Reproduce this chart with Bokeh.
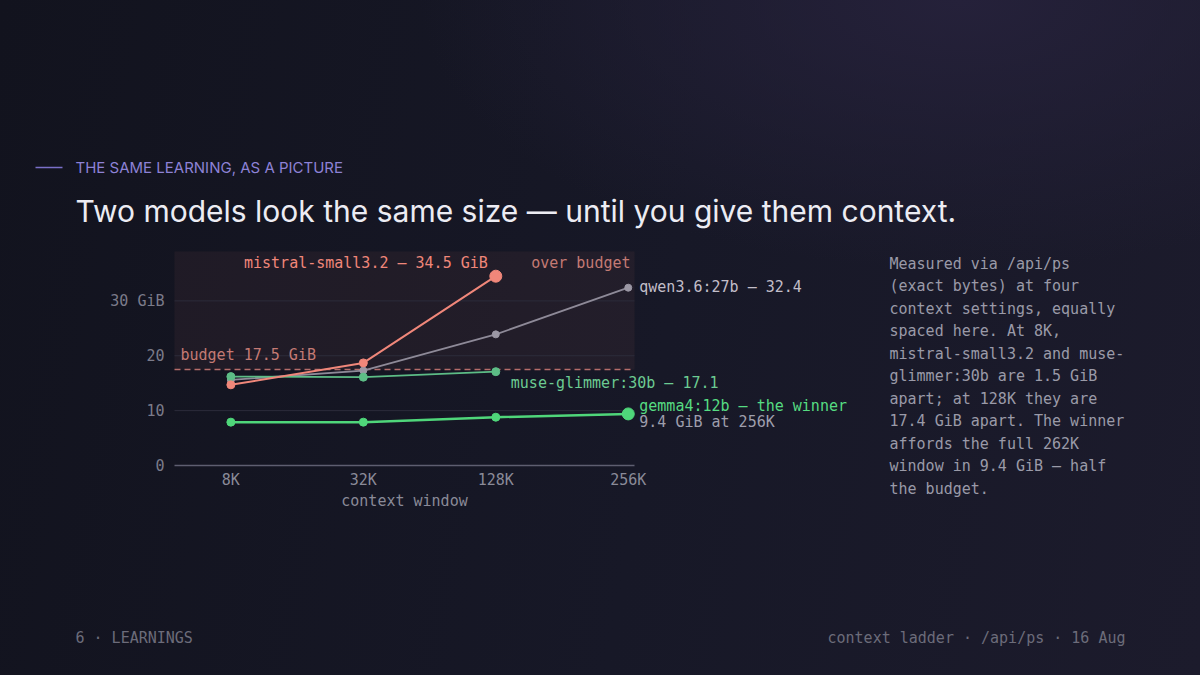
from bokeh.plotting import figure
from bokeh.models import Label, BoxAnnotation, FixedTicker, Range1d, LinearAxis
from bokeh.embed import file_html
from bokeh.resources import INLINE

# datos (GiB por ventana de contexto)
contexts = ["8K", "32K", "128K", "256K"]
mistral = [14.7, 18.7, 34.5]
qwen = [15.6, 17.3, 23.9, 32.4]
muse = [16.2, 16.1, 17.1]
gemma = [7.9, 7.9, 8.8, 9.4]
budget = 17.5
y_ticks = [0, 10, 20, 30]

side_lines = [
    "Measured via /api/ps",
    "(exact bytes) at four",
    "context settings, equally",
    "spaced here. At 8K,",
    "mistral-small3.2 and muse-",
    "glimmer:30b are 1.5 GiB",
    "apart; at 128K they are",
    "17.4 GiB apart. The winner",
    "affords the full 262K",
    "window in 9.4 GiB \u2014 half",
    "the budget.",
]

MONO = "DejaVu Sans Mono"
SANS = "Inter"
W, H = 1200, 675

xs = list(range(len(contexts)))

# zona del grafico en la pagina: x 174-634, y 251-465
X0, X1, Y0, Y1 = 174, 634, 251, 465
x_lo, x_hi = -0.4255, 3.047
y_lo, y_hi = 0, 39
sx = (X1 - X0) / (x_hi - x_lo)
sy = (Y1 - Y0) / (y_hi - y_lo)

# el marco ocupa todo el lienzo; los rangos se estiran para que el grafico caiga en su sitio
p = figure(width=W, height=H, output_backend="svg", toolbar_location=None,
           x_range=Range1d(x_lo - X0 / sx, x_hi + (W - X1) / sx),
           y_range=Range1d(y_lo - (H - Y1) / sy, y_hi + Y0 / sy),
           x_axis_location=None, y_axis_location=None,
           min_border=0)
p.border_fill_color = None
p.background_fill_color = None
p.outline_line_color = None
p.grid.visible = False

# zona "over budget"
p.add_layout(BoxAnnotation(left=x_lo, right=x_hi, bottom=budget, top=y_hi,
                           fill_color="#f08a7a", fill_alpha=0.06,
                           line_color=None, level="image"))

# rejilla
p.segment(x0=[x_lo] * 3, x1=[x_hi] * 3, y0=y_ticks[1:], y1=y_ticks[1:],
          line_color="#2c2c3b", line_width=1)

yaxis = LinearAxis(fixed_location=x_lo, ticker=FixedTicker(ticks=y_ticks))
yaxis.major_label_overrides = {30: "30 GiB"}
yaxis.axis_line_color = None
yaxis.major_tick_line_color = None
yaxis.minor_tick_line_color = None
yaxis.major_label_standoff = 4
yaxis.major_label_text_font = MONO
yaxis.major_label_text_font_size = "15px"
yaxis.major_label_text_color = "#7b7b8a"
p.add_layout(yaxis, "left")

xaxis = LinearAxis(fixed_location=y_lo, ticker=FixedTicker(ticks=xs), bounds=(x_lo, x_hi))
xaxis.major_label_overrides = {i: c for i, c in enumerate(contexts)}
xaxis.axis_line_color = "#5e5e70"
xaxis.axis_line_width = 1.5
xaxis.major_tick_line_color = None
xaxis.minor_tick_line_color = None
xaxis.major_label_standoff = -1
xaxis.major_label_text_font = MONO
xaxis.major_label_text_font_size = "15px"
xaxis.major_label_text_color = "#8a8a98"
xaxis.axis_label = "context window"
xaxis.axis_label_standoff = 0
xaxis.axis_label_text_font = MONO
xaxis.axis_label_text_font_size = "15px"
xaxis.axis_label_text_font_style = "normal"
xaxis.axis_label_text_color = "#8a8a98"
p.add_layout(xaxis, "below")

# linea de presupuesto
p.segment(x0=[x_lo], x1=[x_hi], y0=[budget], y1=[budget], line_color="#b56c6a",
          line_width=1.6, line_dash="6 4")

# series
p.line(xs[:len(qwen)], qwen, color="#8e8a98", line_width=1.8)
p.scatter(xs[:len(qwen)], qwen, size=7, color="#9b97a4")

p.line(xs[:len(muse)], muse, color="#5dbd86", line_width=1.8)
p.scatter(xs[:len(muse)], muse, size=8, color="#5dbd86")

p.line(xs[:len(mistral)], mistral, color="#f0877a", line_width=2)
p.scatter(xs[:len(mistral)], mistral, size=8, color="#f0877a")
p.scatter([xs[len(mistral) - 1]], [mistral[-1]], size=12, color="#f0877a")

p.line(xs[:len(gemma)], gemma, color="#4fd67a", line_width=2.5)
p.scatter(xs[:len(gemma)], gemma, size=8, color="#4fd67a")
p.scatter([xs[len(gemma) - 1]], [gemma[-1]], size=12, color="#4fd67a")


def lab(text, color, **kw):
    kw.setdefault("text_font", MONO)
    kw.setdefault("text_font_size", "15px")
    kw.setdefault("text_baseline", "middle")
    p.add_layout(Label(text=text, text_color=color, **kw))


def page_lab(text, color, X, Y, **kw):
    # posicion en pixeles de la pagina (origen arriba a la izquierda)
    lab(text, color, x=X, y=H - Y, x_units="screen", y_units="screen", **kw)


lab(f"mistral-small3.2 \u2014 {mistral[-1]} GiB", "#f0877a", x=len(mistral) - 1,
    y=mistral[-1], x_offset=-8, y_offset=13, text_align="right")
lab("over budget", "#c47a74", x=x_hi, y=y_hi, x_offset=-4, y_offset=-11,
    text_align="right")
lab(f"qwen3.6:27b \u2014 {qwen[-1]}", "#c2bec9", x=len(qwen) - 1, y=qwen[-1],
    x_offset=11, y_offset=1, text_align="left")
lab(f"muse-glimmer:30b \u2014 {muse[-1]}", "#6ccb92", x=len(muse) - 1, y=muse[-1],
    x_offset=15, y_offset=-11, text_align="left")
lab("gemma4:12b \u2014 the winner", "#56dc82", x=len(gemma) - 1, y=gemma[-1],
    x_offset=11, y_offset=8, text_align="left")
lab(f"{gemma[-1]} GiB at {contexts[-1]}", "#9e9eac", x=len(gemma) - 1, y=gemma[-1],
    x_offset=11, y_offset=-8, text_align="left")
lab(f"budget {budget} GiB", "#c47a74", x=x_lo, y=budget, x_offset=6, y_offset=14,
    text_align="left")

# textos de la pagina
p.add_layout(BoxAnnotation(left=35, right=62, top=H - 166.3, bottom=H - 167.7,
                           left_units="screen", right_units="screen",
                           top_units="screen", bottom_units="screen",
                           fill_color="#7a6fc8", fill_alpha=1, line_color=None))
page_lab("THE SAME LEARNING, AS A PICTURE", "#8d82d6", 75, 167,
         text_font=SANS, text_font_size="15px")
page_lab("Two models look the same size \u2014 until you give them context.", "#ececf3",
         75, 210, text_font=SANS, text_font_size="30px")

for i, line in enumerate(side_lines):
    page_lab(line, "#9a9aa8", 889, 263 + i * 22.5)

page_lab("6 \u00b7 LEARNINGS", "#6c6c7a", 75, 637, text_font_size="15px")
page_lab("context ladder \u00b7 /api/ps \u00b7 16 Aug", "#6c6c7a", 1125, 637,
         text_font_size="15px", text_align="right")

html = file_html(p, INLINE, title="context ladder")
style = ("<style>html{min-height:100%;background:"
         "radial-gradient(ellipse 45% 40% at 80% 0%, #25213a 0%, rgba(37,33,58,0) 100%),"
         "linear-gradient(100deg, #12131e 0%, #171827 55%, #1c1b2c 100%);}"
         "body{background:transparent;}</style></head>")
html = html.replace("</head>", style, 1)
open("out.html", "w").write(html)
